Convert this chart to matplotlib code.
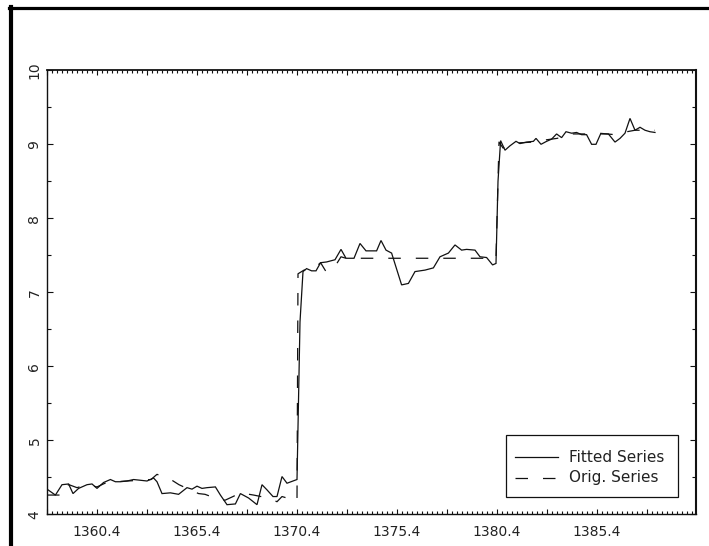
import numpy as np
import matplotlib
matplotlib.use("Agg")
import matplotlib.pyplot as plt
from matplotlib.lines import Line2D
from matplotlib.patches import Rectangle
from matplotlib.ticker import FixedLocator, FixedFormatter

# ---------------- data ----------------
fitted_x = [1357.9, 1358.32, 1358.65, 1358.98, 1359.2, 1359.48, 1359.9, 1360.15, 1360.4,
            1360.73, 1361.07, 1361.32, 1361.57, 1361.9, 1362.23, 1362.57, 1362.9, 1363.23,
            1363.4, 1363.65, 1364.07, 1364.48, 1364.9, 1365.15, 1365.4, 1365.65, 1365.9,
            1366.32, 1366.57, 1366.9, 1367.32, 1367.57, 1367.98, 1368.4, 1368.65, 1368.9,
            1369.2, 1369.4, 1369.65, 1369.9, 1370.4, 1370.55, 1370.7,
            1370.88, 1371.13, 1371.35, 1371.58, 1371.88, 1372.3, 1372.6, 1372.85, 1373.25,
            1373.55, 1373.85, 1374.38, 1374.6, 1374.85, 1375.13, 1375.63, 1375.97, 1376.3,
            1376.8, 1377.22, 1377.55, 1377.97, 1378.3, 1378.63, 1378.88, 1379.3, 1379.55,
            1379.88, 1380.18, 1380.35, 1380.45, 1380.58,
            1380.8, 1381.05, 1381.35, 1381.55, 1381.88, 1382.22, 1382.35, 1382.6, 1382.88,
            1383.13, 1383.38, 1383.63, 1383.85, 1384.13, 1384.38, 1384.63, 1384.88, 1385.13,
            1385.35, 1385.58, 1385.97, 1386.3, 1386.55, 1386.8, 1387.05, 1387.3, 1387.55,
            1387.8, 1388.05, 1388.3]
fitted_y = [4.34, 4.26, 4.40, 4.41, 4.28, 4.35, 4.40, 4.41, 4.35,
            4.43, 4.47, 4.44, 4.44, 4.45, 4.47, 4.46, 4.45, 4.49,
            4.44, 4.28, 4.29, 4.27, 4.36, 4.34, 4.38, 4.35, 4.36,
            4.37, 4.26, 4.13, 4.14, 4.28, 4.22, 4.13, 4.40, 4.33,
            4.24, 4.24, 4.51, 4.42, 4.47, 6.60, 7.28,
            7.32, 7.29, 7.29, 7.40, 7.41, 7.44, 7.58, 7.46, 7.46,
            7.66, 7.56, 7.56, 7.70, 7.57, 7.53, 7.10, 7.12, 7.28,
            7.30, 7.33, 7.48, 7.53, 7.64, 7.57, 7.58, 7.57, 7.48,
            7.47, 7.37, 7.39, 8.50, 9.05,
            8.92, 8.98, 9.04, 9.01, 9.03, 9.04, 9.08, 9.00, 9.04,
            9.07, 9.14, 9.09, 9.17, 9.15, 9.16, 9.13, 9.13, 9.00,
            9.00, 9.14, 9.14, 9.03, 9.08, 9.15, 9.35, 9.19, 9.23,
            9.19, 9.17, 9.16]

orig_x = [1357.9, 1358.57, 1358.7, 1359.0, 1359.4, 1359.9, 1360.4, 1360.8, 1361.3,
          1361.9, 1362.6, 1363.1, 1363.4, 1364.15, 1364.5, 1364.9, 1365.48, 1365.8,
          1366.2, 1366.8, 1367.2, 1367.57, 1368.23, 1368.6, 1368.98, 1369.4, 1369.65,
          1370.4, 1370.45,
          1370.75, 1371.2, 1371.58, 1371.85, 1372.3, 1372.6, 1372.85, 1374.0, 1376.0,
          1378.0, 1380.35, 1380.5,
          1380.7, 1381.0, 1381.55, 1382.2, 1382.85, 1383.4, 1384.2, 1384.9, 1385.5,
          1386.3, 1386.9, 1387.3, 1388.3]
orig_y = [4.26, 4.26, 4.38, 4.40, 4.36, 4.40, 4.37, 4.42, 4.44,
          4.45, 4.46, 4.47, 4.54, 4.46, 4.40, 4.35, 4.28, 4.27,
          4.23, 4.19, 4.24, 4.29, 4.26, 4.24, 4.22, 4.17, 4.24,
          4.18, 7.25,
          7.30, 7.31, 7.40, 7.28, 7.35, 7.48, 7.46, 7.46, 7.46,
          7.46, 7.46, 9.03,
          8.95, 8.98, 9.02, 9.03, 9.06, 9.08, 9.14, 9.14, 9.15,
          9.13, 9.17, 9.19, 9.19]

series_labels = ["Fitted Series", "Orig. Series"]
x_major_ticks = [1357.9, 1360.4, 1362.9, 1365.4, 1367.9, 1370.4, 1372.9,
                 1375.4, 1377.9, 1380.4, 1382.9, 1385.4, 1387.9]
x_tick_labels = ["", "1360.4", "", "1365.4", "", "1370.4", "",
                 "1375.4", "", "1380.4", "", "1385.4", ""]
y_major_ticks = [4, 5, 6, 7, 8, 9, 10]
y_tick_labels = ["4", "5", "6", "7", "8", "9", "10"]

# ---------------- figure ----------------
plt.rcParams["font.family"] = ["DejaVu Sans"]
plt.rcParams["lines.scale_dashes"] = False
W, H = 709, 546
fig = plt.figure(figsize=(W / 100, H / 100), dpi=100)
ax = fig.add_axes([47 / W, 1 - 514.3 / H, (696 - 47) / W, (514.3 - 70.3) / H])

dash = (0, (9.0, 10.8))
ax.plot(fitted_x, fitted_y, color="#111111", lw=0.9, solid_joinstyle="miter")
ax.plot(orig_x, orig_y, color="#111111", lw=0.9, linestyle=dash)

ax.set_xlim(1357.9, 1390.35)
ax.set_ylim(4, 10)

ax.xaxis.set_major_locator(FixedLocator(x_major_ticks))
ax.xaxis.set_major_formatter(FixedFormatter(x_tick_labels))
ax.xaxis.set_minor_locator(FixedLocator(np.arange(1357.9, 1390.36, 0.25)))
ax.yaxis.set_major_locator(FixedLocator(y_major_ticks))
ax.yaxis.set_major_formatter(FixedFormatter(y_tick_labels))
ax.yaxis.set_minor_locator(FixedLocator(np.arange(4, 10.01, 0.5)))

ax.tick_params(axis="both", which="both", direction="in", top=True, right=True,
               color="#111111", width=0.8)
ax.tick_params(axis="x", which="major", length=3.8, pad=8, labelsize=10, labelcolor="#222222")
ax.tick_params(axis="x", which="minor", length=2.2)
ax.tick_params(axis="y", which="major", length=4.0, pad=4, labelsize=10,
               labelcolor="#222222", labelrotation=90)
ax.tick_params(axis="y", which="minor", length=2.8)
for lab in ax.get_yticklabels():
    lab.set_va("center")

for s in ax.spines.values():
    s.set_linewidth(1.0)
    s.set_color("#111111")
ax.spines["right"].set_linewidth(1.5)
ax.spines["top"].set_linewidth(1.3)

# manual legend box
ax.add_patch(Rectangle((0.707, 0.040), 0.265, 0.139, transform=ax.transAxes,
                       fill=False, edgecolor="#111111", lw=0.9, zorder=5))
rows = [0.129, 0.0824]
styles = ["-", dash]
for lab, ry, st in zip(series_labels, rows, styles):
    ax.add_line(Line2D([0.721, 0.787], [ry, ry], transform=ax.transAxes,
                       color="#111111", lw=0.9, linestyle=st, zorder=5))
    ax.text(0.804, ry, lab, transform=ax.transAxes, fontsize=11,
            va="center", ha="left", color="#222222", zorder=5)

# outer frame (left and top edges of the page frame)
fig.add_artist(Line2D([10.5 / W, 10.5 / W], [0, 1 - 7 / H], transform=fig.transFigure,
                      color="black", lw=3.0))
fig.add_artist(Line2D([8.5 / W, 1.0], [1 - 8 / H, 1 - 8 / H], transform=fig.transFigure,
                      color="black", lw=2.3))

fig.savefig("out.png", dpi=100)
